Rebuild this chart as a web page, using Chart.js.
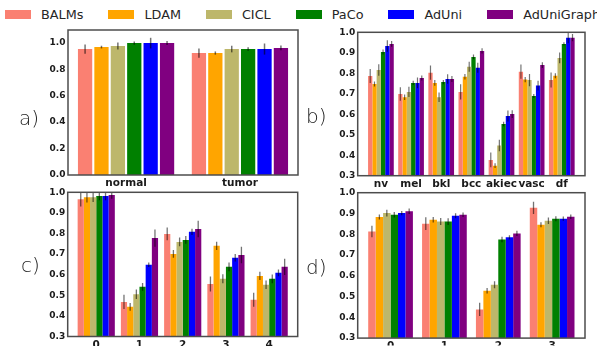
<!DOCTYPE html>
<html>
<head>
<meta charset="utf-8">
<script src="https://cdn.jsdelivr.net/npm/chart.js@4.4.0/dist/chart.umd.min.js"></script>
<style>
    body { margin: 0; background: #fff; }
    #wrap { position: relative; width: 597px; height: 346px; overflow: hidden; background: #fff; }
    canvas { position: absolute; }
    #legend { position: absolute; left: 5px; top: 7px; display: flex; font: 12.8px "DejaVu Sans", sans-serif; color: #262626; white-space: nowrap; }
    .item { display: flex; align-items: center; margin-right: 25px; }
    .box { width: 26px; height: 9px; margin-right: 10px; }
    .tag { position: absolute; font: 200 20px "DejaVu Sans", sans-serif; line-height: 20px; color: #222; }
</style>
</head>
<body>
<div id="wrap">
    <div id="legend"></div>
    <canvas id="chartA" width="300" height="180" style="left:0;top:20px"></canvas>
    <canvas id="chartB" width="297" height="180" style="left:300px;top:20px"></canvas>
    <canvas id="chartC" width="300" height="166" style="left:0;top:180px"></canvas>
    <canvas id="chartD" width="297" height="166" style="left:300px;top:180px"></canvas>
    <div class="tag" style="left:19px;top:108px">a)</div>
    <div class="tag" style="left:306px;top:106px">b)</div>
    <div class="tag" style="left:21px;top:255px">c)</div>
    <div class="tag" style="left:306px;top:257px">d)</div>
</div>
<script>
// Methods and their colours
const series = ['BALMs', 'LDAM', 'CICL', 'PaCo', 'AdUni', 'AdUniGraph'];
const colors = ['#fa8072', '#ffa500', '#bdb76b', '#008000', '#0000ff', '#800080'];

// a) normal / tumor
const aLabels = ['normal', 'tumor'];
const aMeans = [
    [0.952, 0.922],
    [0.967, 0.922],
    [0.975, 0.952],
    [0.997, 0.952],
    [0.997, 0.952],
    [0.997, 0.960]
];
const aErrs = [
    [0.035, 0.035],
    [0.010, 0.012],
    [0.027, 0.025],
    [0.012, 0.013],
    [0.040, 0.042],
    [0.015, 0.018]
];
const aTicks = [0.0, 0.2, 0.4, 0.6, 0.8, 1.0];

// b) skin lesion classes
const bLabels = ['nv', 'mel', 'bkl', 'bcc', 'akiec', 'vasc', 'df'];
const bMeans = [
    [0.787, 0.699, 0.803, 0.709, 0.377, 0.808, 0.767],
    [0.748, 0.683, 0.753, 0.783, 0.349, 0.769, 0.788],
    [0.816, 0.709, 0.683, 0.832, 0.447, 0.767, 0.875],
    [0.904, 0.753, 0.757, 0.880, 0.552, 0.689, 0.943],
    [0.933, 0.753, 0.772, 0.827, 0.591, 0.740, 0.974],
    [0.943, 0.777, 0.772, 0.909, 0.601, 0.840, 0.974]
];
const bErrs = [
    [0.034, 0.033, 0.035, 0.037, 0.036, 0.035, 0.037],
    [0.012, 0.013, 0.014, 0.013, 0.012, 0.013, 0.012],
    [0.028, 0.025, 0.023, 0.024, 0.028, 0.030, 0.026],
    [0.012, 0.010, 0.010, 0.012, 0.011, 0.010, 0.008],
    [0.028, 0.026, 0.023, 0.024, 0.027, 0.024, 0.028],
    [0.014, 0.012, 0.015, 0.013, 0.019, 0.014, 0.018]
];

// c) classes 0-4
const cLabels = ['0', '1', '2', '3', '4'];
const cMeans = [
    [0.966, 0.468, 0.798, 0.555, 0.478],
    [0.976, 0.444, 0.701, 0.740, 0.594],
    [0.976, 0.505, 0.759, 0.580, 0.551],
    [0.982, 0.541, 0.769, 0.638, 0.580],
    [0.982, 0.648, 0.808, 0.682, 0.609],
    [0.987, 0.778, 0.822, 0.696, 0.638]
];
const cErrs = [
    [0.035, 0.035, 0.031, 0.036, 0.034],
    [0.025, 0.019, 0.019, 0.020, 0.020],
    [0.023, 0.023, 0.021, 0.022, 0.021],
    [0.020, 0.019, 0.019, 0.021, 0.021],
    [0.020, 0.011, 0.015, 0.018, 0.016],
    [0.018, 0.042, 0.040, 0.040, 0.040]
];

// d) classes 0-3
const dLabels = ['0', '1', '2', '3'];
const dMeans = [
    [0.813, 0.851, 0.438, 0.927],
    [0.883, 0.870, 0.528, 0.846],
    [0.902, 0.861, 0.557, 0.865],
    [0.894, 0.861, 0.775, 0.875],
    [0.902, 0.889, 0.785, 0.875],
    [0.911, 0.894, 0.804, 0.884]
];
const dErrs = [
    [0.028, 0.031, 0.032, 0.029],
    [0.012, 0.013, 0.013, 0.012],
    [0.016, 0.017, 0.017, 0.016],
    [0.013, 0.016, 0.013, 0.012],
    [0.010, 0.012, 0.010, 0.010],
    [0.013, 0.011, 0.013, 0.011]
];
const bcdTicks = [0.3, 0.4, 0.5, 0.6, 0.7, 0.8, 0.9, 1.0];

// Legend
const legend = document.getElementById('legend');
series.forEach((name, i) => {
    const item = document.createElement('div');
    item.className = 'item';
    item.innerHTML = `<span class="box" style="background:${colors[i]}"></span><span>${name}</span>`;
    legend.appendChild(item);
});

// Error bars drawn from the bar elements and the y scale
const errorBars = {
    id: 'errorBars',
    afterDatasetsDraw(chart, args, opts) {
        const { ctx, chartArea, scales: { y } } = chart;
        ctx.save();
        ctx.beginPath();
        ctx.rect(chartArea.left, chartArea.top, chartArea.width, chartArea.height);
        ctx.clip();
        ctx.strokeStyle = 'rgba(0, 0, 0, 0.55)';
        ctx.lineWidth = opts.width || 1.3;
        chart.data.datasets.forEach((ds, i) => {
            chart.getDatasetMeta(i).data.forEach((bar, j) => {
                const v = ds.data[j].y, e = ds.errors[j];
                ctx.beginPath();
                ctx.moveTo(bar.x, y.getPixelForValue(v + e));
                ctx.lineTo(bar.x, y.getPixelForValue(v - e));
                ctx.stroke();
            });
        });
        ctx.restore();
    }
};

// Axes frame on top of everything
const frame = {
    id: 'frame',
    afterDraw(chart) {
        const { ctx, chartArea: a } = chart;
        ctx.save();
        ctx.strokeStyle = '#4d4d4d';
        ctx.lineWidth = 1.5;
        ctx.strokeRect(a.left, a.top, a.right - a.left, a.bottom - a.top);
        ctx.restore();
    }
};

function makePanel(id, labels, means, errs, yTicks, o) {
    const datasets = series.map((name, i) => ({
        label: name,
        data: means[i].map((v, j) => ({ x: j, y: v })),
        errors: errs[i],
        backgroundColor: colors[i],
        borderWidth: 0,
        categoryPercentage: o.catPct,
        barPercentage: o.barPct
    }));

    new Chart(document.getElementById(id), {
        type: 'bar',
        data: { datasets },
        options: {
            responsive: false,
            animation: false,
            events: [],
            layout: { padding: { top: o.padTop, right: o.padRight, left: 0, bottom: 0 } },
            plugins: {
                legend: { display: false },
                tooltip: { enabled: false },
                errorBars: { width: o.errWidth }
            },
            scales: {
                x: {
                    type: 'linear',
                    min: o.xMin,
                    max: o.xMax,
                    offset: false,
                    grid: { display: false, offset: false, drawTicks: false, tickLength: 0 },
                    border: { display: false },
                    afterBuildTicks: s => { s.ticks = labels.map((_, i) => ({ value: i })); },
                    afterFit: s => { s.height = o.xHeight; },
                    ticks: {
                        autoSkip: false,
                        maxRotation: 0,
                        padding: 2,
                        color: '#1a1a1a',
                        font: { family: 'DejaVu Sans', size: 10.5, weight: 'bold' },
                        callback: v => labels[v]
                    }
                },
                y: {
                    min: o.yMin,
                    max: o.yMax,
                    grid: { display: false, drawTicks: false, tickLength: 0 },
                    border: { display: false },
                    afterBuildTicks: s => { s.ticks = yTicks.map(v => ({ value: v })); },
                    afterFit: s => { s.width = o.yWidth; },
                    ticks: {
                        padding: 2.5,
                        color: '#1a1a1a',
                        font: { family: 'DejaVu Sans', size: 9, weight: 'bold' },
                        callback: v => v.toFixed(1)
                    }
                }
            }
        },
        plugins: [errorBars, frame]
    });
}

makePanel('chartA', aLabels, aMeans, aErrs, aTicks, {
    xMin: -0.51, xMax: 1.51, yMin: 0, yMax: 1.096,
    yWidth: 68, xHeight: 25, padTop: 10, padRight: 2,
    catPct: 0.864, barPct: 0.87, errWidth: 1.5
});
makePanel('chartB', bLabels, bMeans, bErrs, bcdTicks, {
    xMin: -0.77, xMax: 6.77, yMin: 0.3, yMax: 1.0,
    yWidth: 57.7, xHeight: 24.3, padTop: 12.3, padRight: 12,
    catPct: 0.853, barPct: 1.0, errWidth: 1.2
});
makePanel('chartC', cLabels, cMeans, cErrs, bcdTicks, {
    xMin: -0.66, xMax: 4.66, yMin: 0.3, yMax: 1.0,
    yWidth: 67.7, xHeight: 9.5, padTop: 12.3, padRight: 2.3,
    catPct: 0.86, barPct: 1.0, errWidth: 1.3
});
makePanel('chartD', dLabels, dMeans, dErrs, bcdTicks, {
    xMin: -0.61, xMax: 3.61, yMin: 0.3, yMax: 1.0,
    yWidth: 57.7, xHeight: 7.5, padTop: 12.7, padRight: 12,
    catPct: 0.83, barPct: 1.0, errWidth: 1.3
});
</script>
</body>
</html>
